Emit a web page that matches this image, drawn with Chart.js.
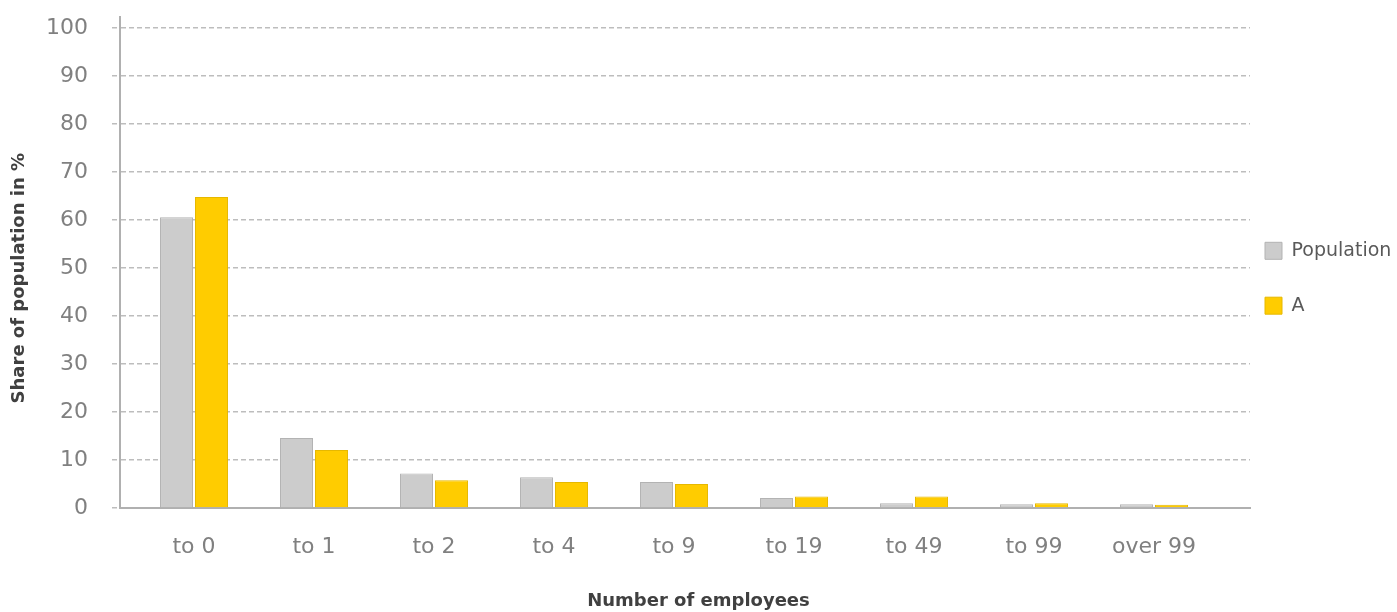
<!DOCTYPE html>
<html>
<head>
<meta charset="utf-8">
<script src="https://cdn.jsdelivr.net/npm/chart.js@4/dist/chart.umd.min.js"></script>
<style>
  html, body { margin: 0; padding: 0; background: #ffffff; }
  canvas { display: block; }
</style>
</head>
<body>
<canvas id="chart" width="1397" height="612"></canvas>
<script>
// Firm size classes and the share of each group in every class (%)
const categories = ['to 0', 'to 1', 'to 2', 'to 4', 'to 9', 'to 19', 'to 49', 'to 99', 'over 99'];
const population = [60.6, 14.6, 7.2, 6.4, 5.4, 2.1, 1.0, 0.8, 0.8];
const seriesA = [64.8, 12.1, 5.8, 5.4, 5.0, 2.4, 2.4, 1.0, 0.7];
const yTicks = [0, 10, 20, 30, 40, 50, 60, 70, 80, 90, 100];

const seriesNames = ['Population', 'A'];

const toPoints = values => values.map((v, i) => ({ x: i, y: v }));

const tickFont = { family: 'DejaVu Sans', size: 22 };
const titleFont = { family: 'DejaVu Sans', size: 18, weight: 'bold' };
const gridDash = [5, 3];

new Chart(document.getElementById('chart'), {
  type: 'bar',
  data: {
    datasets: [
      {
        label: seriesNames[0],
        data: toPoints(population),
        backgroundColor: '#cccccc',
        borderColor: '#b3b3b3',
        borderWidth: 1,
        borderSkipped: 'bottom',
        categoryPercentage: 0.583,
        barPercentage: 0.943
      },
      {
        label: seriesNames[1],
        data: toPoints(seriesA),
        backgroundColor: '#ffcc00',
        borderColor: '#e6b800',
        borderWidth: 1,
        borderSkipped: 'bottom',
        categoryPercentage: 0.583,
        barPercentage: 0.943
      }
    ]
  },
  options: {
    responsive: false,
    animation: false,
    devicePixelRatio: 1,
    layout: { padding: { top: 17, left: 0, right: 0, bottom: 0 } },
    scales: {
      x: {
        type: 'linear',
        offset: false,
        min: -0.6167,
        max: 8.8,
        afterBuildTicks: scale => {
          scale.ticks = categories.map((_, i) => ({ value: i }));
        },
        afterFit: scale => {
          scale.height = 82.4;
          scale.paddingLeft = 0;
          scale.paddingRight = 0;
        },
        grid: { display: false, drawTicks: false, offset: false },
        border: { display: true, color: '#b0b0b0', width: 2 },
        ticks: {
          autoSkip: false,
          maxRotation: 0,
          padding: 26,
          color: '#808080',
          font: tickFont,
          callback: (value, index) => categories[index]
        }
      },
      y: {
        min: 0,
        max: 102.3,
        afterBuildTicks: scale => {
          scale.ticks = yTicks.map(v => ({ value: v }));
        },
        afterFit: scale => {
          scale.width = 120;
          scale.paddingTop = 0;
          scale.paddingBottom = 0;
        },
        grid: {
          color: '#bdbdbd',
          lineWidth: 1.5,
          tickBorderDash: gridDash,
          tickColor: '#bdbdbd',
          tickWidth: 1.5,
          tickLength: 8
        },
        border: { display: true, color: '#b0b0b0', width: 2, dash: gridDash },
        ticks: {
          padding: 24,
          color: '#808080',
          font: tickFont
        },
        title: {
          display: true,
          text: 'Share of population in %     ',
          color: '#404040',
          font: titleFont,
          padding: { top: 9, bottom: 0 }
        }
      }
    },
    plugins: {
      legend: {
        position: 'right',
        align: 'center',
        fullSize: false,
        maxWidth: 147,
        title: {
          display: true,
          text: '',
          font: { size: 12, lineHeight: 1.2 },
          padding: { top: 19, bottom: 19 }
        },
        labels: {
          boxWidth: 17,
          boxHeight: 17,
          padding: 15,
          color: '#595959',
          font: { family: 'DejaVu Sans', size: 19, lineHeight: 2.1 },
          generateLabels: chart => {
            const items = Chart.defaults.plugins.legend.labels.generateLabels(chart);
            return items.map(item => Object.assign(item, { text: [item.text], lineWidth: 1 }));
          }
        }
      },
      title: {
        display: true,
        position: 'bottom',
        text: 'Number of employees',
        color: '#404040',
        font: titleFont,
        padding: { top: 0, bottom: 0 }
      },
      tooltip: { enabled: false }
    }
  }
});
</script>
</body>
</html>
